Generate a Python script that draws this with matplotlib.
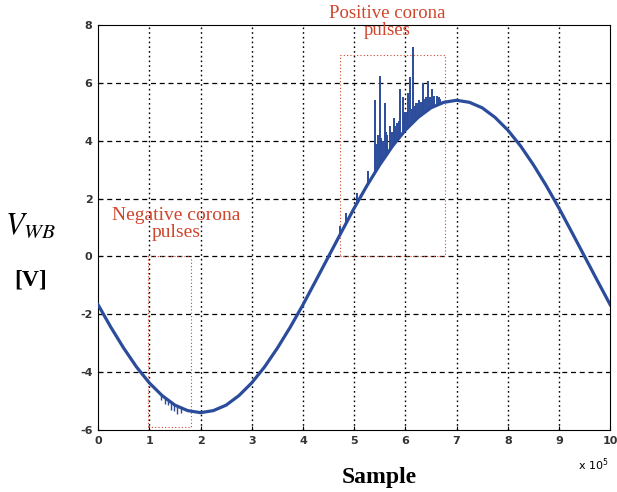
import numpy as np
import matplotlib
matplotlib.use("Agg")
import matplotlib.pyplot as plt

plt.rcParams["axes.unicode_minus"] = False

# base waveform (x in units of 1e5 samples)
sample = [0, 0.25, 0.5, 0.75, 1.0, 1.25, 1.5, 1.75, 2.0, 2.25, 2.5, 2.75, 3.0, 3.25,
          3.5, 3.75, 4.0, 4.25, 4.5, 4.75, 5.0, 5.25, 5.5, 5.75, 6.0, 6.25, 6.5,
          6.75, 7.0, 7.25, 7.5, 7.75, 8.0, 8.25, 8.5, 8.75, 9.0, 9.25, 9.5, 9.75, 10.0]
v_wb = [-1.67, -2.45, -3.17, -3.82, -4.37, -4.81, -5.14, -5.33, -5.40, -5.33, -5.14,
        -4.81, -4.37, -3.82, -3.17, -2.45, -1.67, -0.84, 0.0, 0.84, 1.67, 2.45, 3.17,
        3.82, 4.37, 4.81, 5.14, 5.33, 5.40, 5.33, 5.14, 4.81, 4.37, 3.82, 3.17, 2.45,
        1.67, 0.84, 0.0, -0.84, -1.67]

# positive corona pulses: position and tip value
pos_x = [4.72, 4.85, 5.05, 5.27, 5.40, 5.43, 5.46, 5.51, 5.53, 5.56, 5.60, 5.63, 5.65,
         5.70, 5.73, 5.77, 5.80, 5.83, 5.87, 5.90, 5.95, 5.98, 6.00, 6.03, 6.05, 6.09,
         6.12, 6.15, 6.18, 6.20, 6.24, 6.27, 6.30, 6.34, 6.37, 6.40, 6.44, 6.48, 6.52,
         6.56, 6.61, 6.65, 6.68]
pos_top = [1.05, 1.5, 2.2, 2.95, 5.4, 3.9, 4.2, 6.25, 4.1, 4.0, 5.3, 4.3, 4.2,
           4.5, 4.3, 4.8, 4.5, 4.6, 4.7, 5.8, 5.5, 4.9, 5.0, 5.0, 5.65, 6.2,
           5.1, 7.25, 5.2, 5.3, 5.3, 5.4, 5.35, 6.0, 5.45, 5.5, 6.05, 5.5, 5.8,
           5.55, 5.55, 5.5, 5.45]

# negative corona pulses
neg_x = [1.22, 1.30, 1.36, 1.42, 1.48, 1.55, 1.62]
neg_bot = [-4.95, -5.1, -5.15, -5.3, -5.35, -5.45, -5.42]

blue = "#2b4c9b"
red = "#d0452c"

fig = plt.figure(figsize=(6.17, 4.92), dpi=100)
ax = fig.add_axes([0.159, 0.126, 0.83, 0.823])

ax.plot(sample, v_wb, color=blue, lw=2.3, zorder=3)
ax.vlines(pos_x, np.interp(pos_x, sample, v_wb), pos_top, color=blue, lw=1.4, zorder=3)
ax.vlines(neg_x, neg_bot, np.interp(neg_x, sample, v_wb), color=blue, lw=1.0, zorder=3)

ax.set_xlim(0, 10)
ax.set_ylim(-6, 8)
ax.set_xticks(range(0, 11))
ax.set_yticks(range(-6, 9, 2))
ax.tick_params(labelsize=8, length=3, direction="in", pad=4)
for lab in ax.get_xticklabels() + ax.get_yticklabels():
    lab.set_fontweight("bold")
    lab.set_color("#333333")

for yv in range(-4, 8, 2):
    ax.axhline(yv, color="black", lw=0.9, ls=(0, (4, 3)), zorder=1)
for xv in range(1, 10):
    ax.axvline(xv, color="black", lw=1.0, ls=(0, (1.2, 2.2)), zorder=1)

# red dotted boxes marking the pulse regions
ax.plot([4.73, 6.78, 6.78, 4.73, 4.73], [0, 0, 6.97, 6.97, 0], color=red, lw=0.8,
        ls=(0, (1, 2)), zorder=2)
ax.plot([0.98, 1.82, 1.82, 0.98, 0.98], [-5.9, -5.9, 0, 0, -5.9], color=red, lw=0.8,
        ls=(0, (1, 2)), zorder=2)

ax.text(5.65, 8.7, "Positive corona\npulses", color=red, fontsize=13.5, ha="center",
        va="top", family="Liberation Serif", linespacing=1.0, clip_on=False)
ax.text(1.52, 1.7, "Negative corona\npulses", color=red, fontsize=14, ha="center",
        va="top", family="Liberation Serif", linespacing=1.0)

fig.text(0.05, 0.54, r"$V_{WB}$", fontsize=22, ha="center", va="center",
         family="Liberation Serif", math_fontfamily="stix")
fig.text(0.05, 0.43, "[V]", fontsize=17, ha="center", va="center",
         family="Liberation Serif", fontweight="bold")
fig.text(0.615, 0.03, "Sample", fontsize=17, ha="center", va="center",
         family="Liberation Serif", fontweight="bold")
fig.text(0.962, 0.055, r"x 10$^5$", fontsize=8, ha="center", va="center")

fig.savefig("out.png", dpi=100)
